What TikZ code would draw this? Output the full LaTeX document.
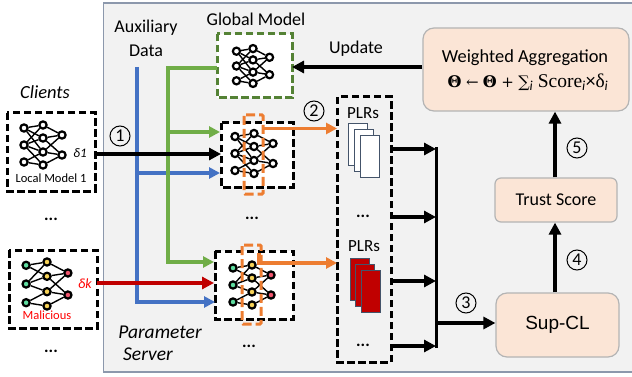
\documentclass[tikz,border=0pt]{standalone}
\usepackage{fontspec}
\setmainfont{Carlito}
\newfontfamily\serifbit{Liberation Serif}
\newfontfamily\symbit{DejaVu Serif}
\newfontfamily\arialbit{Liberation Sans}
\usetikzlibrary{arrows.meta}
\definecolor{panelfill}{HTML}{F2F2F2}
\definecolor{panelline}{HTML}{8C98AC}
\definecolor{peach}{HTML}{FBE5D6}
\definecolor{peachline}{HTML}{B4B4B4}
\definecolor{gbox}{HTML}{548235}
\definecolor{garrow}{HTML}{70AD47}
\definecolor{barrow}{HTML}{4472C4}
\definecolor{oarrow}{HTML}{ED7D31}
\definecolor{darkred}{HTML}{C00000}
\definecolor{lgreen}{HTML}{5FDDA0}
\definecolor{lyellow}{HTML}{F7D358}
\definecolor{lred}{HTML}{F0566E}
\definecolor{sheet}{HTML}{44546A}
\tikzset{
  panel/.style={draw=panelline,line width=1.2pt,fill=panelfill},
  dashbox/.style={draw=black,line width=3pt,dash pattern=on 7.5pt off 3.5pt,line cap=butt},
  greenbox/.style={draw=gbox,fill=white,line width=3pt,dash pattern=on 7.5pt off 3.5pt},
  orangebox/.style={draw=oarrow,line width=3pt,dash pattern=on 9pt off 4pt,rounded corners=1pt},
  peachbox/.style={draw=peachline,fill=peach,line width=1.2pt,rounded corners=11pt},
  neuron/.style={circle,draw=black,line width=2.2pt,inner sep=0pt,minimum size=7.2pt},
  syn/.style={line width=1.4pt,black},
  thickarrow/.style={line width=3.8pt,-{Triangle[length=12pt,width=12pt]}},
  thinarrow/.style={line width=3.3pt,-{Triangle[length=11pt,width=11pt]}},
  blackarrow/.style={line width=3.6pt,-{Triangle[length=12pt,width=12pt]}},
  step number/.style={circle,draw=black,line width=1pt,inner sep=0pt,minimum size=20pt,font=\fontsize{18}{18}\selectfont},
  lbl/.style={font=\fontsize{18}{20}\selectfont,inner sep=0pt,text=black},
  small lbl/.style={font=\fontsize{12.5}{14}\selectfont,inner sep=0pt},
  dotlbl/.style={font=\fontsize{17}{17}\selectfont\bfseries,inner sep=0pt},
  sheetw/.style={draw=sheet,fill=white,line width=0.9pt},
  sheetr/.style={draw=sheet,fill=darkred,line width=0.9pt},
}
% prefix, x, y, scale, left colour, mid colour, right colour, extra edges
\newcommand\nnet[8]{%
  \foreach \n/\dy in {1/-17,2/0,3/17}
    \node[neuron,fill=#5] (#1-l\n) at ({#2-19*#4},{#3+\dy*#4}) {};
  \foreach \n/\dy in {1/-20,2/-7,3/7,4/20}
    \node[neuron,fill=#6] (#1-m\n) at ({#2},{#3+\dy*#4}) {};
  \foreach \n/\dy in {1/-10,2/10}
    \node[neuron,fill=#7] (#1-r\n) at ({#2+19*#4},{#3+\dy*#4}) {};
  \foreach \a/\b in {l1/m1,l1/m2,l2/m2,l2/m3,l3/m3,l3/m4,m1/r1,m2/r1,m2/r2,m3/r1,m3/r2,m4/r2,#8}
    \draw[syn] (#1-\a) -- (#1-\b);
}
\begin{document}
\begin{tikzpicture}[x=1pt,y=-1pt]
\useasboundingbox (0,0) rectangle (632,377);
\fill[white] (0,0) rectangle (632,377);
\draw[panel] (103.5,3) rectangle (640,372);

% boxes
\draw[dashbox,fill=white] (7,113) rectangle (95,191);
\draw[dashbox,fill=white] (9,250) rectangle (97,328);
\draw[greenbox] (217,34) rectangle (292,98);
\draw[dashbox,fill=white] (221,123) rectangle (293,187);
\draw[dashbox,fill=white] (215,251) rectangle (293,319);
\draw[dashbox] (337,97) rectangle (391,362);

% networks
\nnet{c}{43}{145}{1}{white}{white}{white}{l1/m3,l2/m1,l2/m4}
\nnet{k}{47}{284}{1.1}{lgreen}{lyellow}{lred}{l2/m1}
\nnet{g}{253}{66}{0.87}{white}{white}{white}{l1/m3,l2/m1,l2/m4}
\nnet{s}{254}{153.5}{1}{white}{white}{white}{l1/m3,l2/m1,l2/m4}
\nnet{t}{252}{285}{1}{lgreen}{lyellow}{lred}{l2/m1}

% orange selection
\draw[orangebox] (244,115) rectangle (263,194);
\draw[orangebox] (242,245) rectangle (261,324);

% named anchors for connectors
\coordinate (bluetop) at (137,67);
\coordinate (gstart) at (217,68);
\coordinate (gturn) at (168,68);
\coordinate (gend) at (168,262);
\coordinate (bend) at (137,302);

% data lines
\draw[barrow,thinarrow] (bluetop) -- (bend) -- (215,302);
\draw[barrow,thinarrow] (137,173) -- (220,173);
\draw[garrow,thinarrow] (gstart) -- (gturn) -- (gend) -- (214,262);
\draw[garrow,thinarrow] (168,132) -- (220,132);
\draw[black,thickarrow] (95,154) -- (221,154);
\draw[darkred,thickarrow] (97,283) -- (214,283);
\draw[oarrow,thinarrow] (263,128.5) -- (337,128.5);
\draw[oarrow,thinarrow] (259,253) -- (259,263) -- (337,263);

% PLR sheets
\draw[sheetw] (348,123) rectangle (367,165);
\draw[sheetw] (354,129) rectangle (373,171);
\draw[sheetw] (360,135) rectangle (379,177);
\draw[sheetr] (350,258) rectangle (369,300);
\draw[sheetr] (355,264) rectangle (374,306);
\draw[sheetr] (361,270) rectangle (380,312);

% right-hand boxes
\node[peachbox,minimum width=206pt,minimum height=83pt,anchor=center] (agg) at (526,69.5) {};
\node[peachbox,minimum width=122pt,minimum height=44pt,rounded corners=6pt] (trust) at (556,200) {\fontsize{18}{20}\selectfont Trust Score};
\node[peachbox,minimum width=123pt,minimum height=64pt] (sup) at (557.5,325) {\arialbit\fontsize{19}{20}\selectfont Sup-CL};

% bus and arrows
\coordinate (bustop) at (436,147.2);
\coordinate (busbot) at (436,347.8);
\draw[black,line width=3pt] (bustop) -- (busbot);
\foreach \yy in {149,217,281,346}
  \draw[black,blackarrow] (391,\yy) -- (436,\yy);
\draw[black,blackarrow] (436,323) -- (sup.west |- 0,323);
\draw[black,blackarrow] (sup.north -| 555,0) -- (trust.south -| 555,0);
\draw[black,blackarrow] (trust.north -| 555,0) -- (agg.south -| 555,0);
\draw[black,blackarrow] (agg.west |- 0,67) -- (292,67);

% step numbers
\node[step number] (n1) at (120,136) {1};
\node[step number] (n2) at (314,111) {2};
\node[step number] (n3) at (466,303) {3};
\node[step number] (n4) at (577,260) {4};
\node[step number] (n5) at (577,148) {5};

% text
\node[lbl,font=\fontsize{18.5}{20}\selectfont\itshape] (clients) at (45,92) {Clients};
\node[small lbl] (local) at (51,178) {Local Model 1};
\node[lbl,font=\fontsize{13}{14}\selectfont\itshape] (d1) at (80,153) {δ1};
\node[small lbl,text=red] (mal) at (47,315) {Malicious};
\node[lbl,font=\fontsize{14}{14}\selectfont\itshape,text=red] (dk) at (85,284) {δk};
\node[lbl] (aux1) at (146,28) {Auxiliary};
\node[lbl] (aux2) at (146,51) {Data};
\node[lbl] (gm) at (256,19) {Global Model};
\node[lbl] (upd) at (356,49) {Update};
\node[lbl,font=\fontsize{17}{18}\selectfont] (plr1) at (363,113) {PLRs};
\node[lbl,font=\fontsize{17}{18}\selectfont] (plr2) at (364,246) {PLRs};
\node[lbl,font=\fontsize{19.5}{20}\selectfont\itshape] (ps1) at (160,332) {Parameter};
\node[lbl,font=\fontsize{19.5}{20}\selectfont\itshape] (ps2) at (148,354) {Server};
\node[lbl,font=\fontsize{18.4}{20}\selectfont] (agg1) at (525,58) {Weighted Aggregation};
\node[lbl,font=\fontsize{19.5}{20}\selectfont] (agg2) at (528,82) {{\symbit\fontsize{16}{16}\selectfont\bfseries Θ} {\symbit\fontsize{15}{16}\selectfont ←} {\symbit\fontsize{16}{16}\selectfont\bfseries Θ} {\symbit\fontsize{15}{16}\selectfont +} {\symbit\fontsize{16}{16}\selectfont ∑}$_{\mathit{i}}$ {\serifbit Score}$_{\mathit{i}}$×{\serifbit δ}$_{\mathit{i}}$};
\foreach \nm/\xx/\yy in {e1/51/219,e2/51/351,e3/252/218,e4/249/346,e5/363/216,e6/363/345}
  \node[dotlbl] (\nm) at (\xx,\yy) {...};
\end{tikzpicture}
\end{document}
